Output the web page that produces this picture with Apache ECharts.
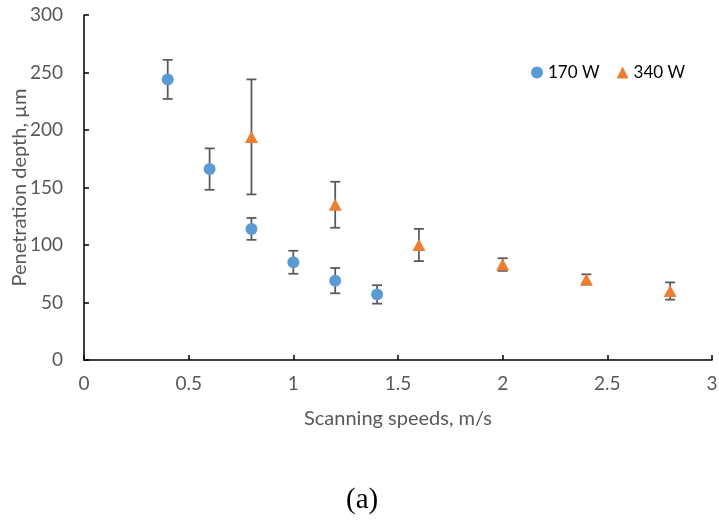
<!DOCTYPE html>
<html>
<head>
<meta charset="utf-8">
<script src="https://cdn.jsdelivr.net/npm/echarts@6/dist/echarts.min.js"></script>
<style>
  html, body { margin: 0; padding: 0; background: #fff; }
  #chart { width: 719px; height: 521px; }
</style>
</head>
<body>
<div id="chart"></div>
<script>
// Penetration depth vs scanning speed, two laser powers, with error bars
const speed170 = [0.4, 0.6, 0.8, 1.0, 1.2, 1.4];
const depth170 = [244, 166, 114, 85, 69, 57];
const err170   = [17, 18, 9.5, 10, 11, 8];

const speed340 = [0.8, 1.2, 1.6, 2.0, 2.4, 2.8];
const depth340 = [194, 135, 100, 83, 70, 60];
const err340   = [50, 20, 14, 5.5, 4.5, 7.5];

const xTicks = [0, 0.5, 1, 1.5, 2, 2.5, 3];
const yTicks = [0, 50, 100, 150, 200, 250, 300];

const font = 'Lato, "Open Sans", sans-serif';
const axisColor = '#000';
const labelColor = '#595959';

function pairs(xs, ys) { return xs.map((x, i) => [x, ys[i]]); }
function errRows(xs, ys, es) { return xs.map((x, i) => [x, ys[i] - es[i], ys[i] + es[i]]); }

function renderErr(params, api) {
  const x = api.value(0);
  const lo = api.coord([x, api.value(1)]);
  const hi = api.coord([x, api.value(2)]);
  const cap = 5;
  const style = { stroke: '#595959', lineWidth: 1.75 };
  return {
    type: 'group',
    children: [
      { type: 'line', shape: { x1: lo[0], y1: lo[1], x2: hi[0], y2: hi[1] }, style },
      { type: 'line', shape: { x1: hi[0] - cap, y1: hi[1], x2: hi[0] + cap, y2: hi[1] }, style },
      { type: 'line', shape: { x1: lo[0] - cap, y1: lo[1], x2: lo[0] + cap, y2: lo[1] }, style }
    ]
  };
}

const chart = echarts.init(document.getElementById('chart'), null, { renderer: 'canvas' });
chart.setOption({
  animation: false,
  backgroundColor: '#fff',
  grid: { left: 84, right: 7, top: 15, bottom: 161, containLabel: false, outerBoundsMode: 'none' },
  legend: {
    left: 526, top: 59,
    itemWidth: 12, itemHeight: 12, itemGap: 17,
    textStyle: { fontFamily: font, fontSize: 17, color: '#000' },
    data: [
      { name: '170 W', icon: 'circle' },
      { name: '340 W', icon: 'triangle' }
    ]
  },
  xAxis: {
    type: 'value', min: 0, max: 3, interval: 0.5,
    name: 'Scanning speeds, m/s', nameLocation: 'middle', nameGap: 49, nameMoveOverlap: false,
    nameTextStyle: { fontFamily: font, fontSize: 20, color: labelColor },
    axisLine: { show: true, lineStyle: { color: axisColor, width: 1.5 } },
    axisTick: { show: true, inside: true, length: 5, lineStyle: { color: axisColor, width: 1.5 } },
    axisLabel: {
      margin: 14, fontFamily: font, fontSize: 19, color: labelColor,
      formatter: v => xTicks.includes(v) ? String(v) : ''
    },
    splitLine: { show: false }
  },
  yAxis: {
    type: 'value', min: 0, max: 300, interval: 50,
    name: 'Penetration depth, µm', nameLocation: 'middle', nameGap: 54, nameRotate: 90,
    nameMoveOverlap: false,
    nameTextStyle: { fontFamily: font, fontSize: 20, color: labelColor },
    axisLine: { show: true, lineStyle: { color: axisColor, width: 1.5 } },
    axisTick: { show: true, inside: true, length: 5, lineStyle: { color: axisColor, width: 1.5 } },
    axisLabel: {
      margin: 21, fontFamily: font, fontSize: 19, color: labelColor,
      formatter: v => yTicks.includes(v) ? String(v) : ''
    },
    splitLine: { show: false }
  },
  series: [
    {
      name: '170 W err', type: 'custom', renderItem: renderErr,
      data: errRows(speed170, depth170, err170), z: 1, silent: true,
      encode: { x: 0, y: [1, 2] }
    },
    {
      name: '340 W err', type: 'custom', renderItem: renderErr,
      data: errRows(speed340, depth340, err340), z: 1, silent: true,
      encode: { x: 0, y: [1, 2] }
    },
    {
      name: '170 W', type: 'scatter', symbol: 'circle', symbolSize: 12,
      itemStyle: { color: '#5B9BD5', opacity: 1 }, z: 3,
      data: pairs(speed170, depth170)
    },
    {
      name: '340 W', type: 'scatter', symbol: 'triangle', symbolSize: [13, 12],
      itemStyle: { color: '#ED7D31', opacity: 1 }, z: 3,
      data: pairs(speed340, depth340)
    }
  ],
  graphic: [
    {
      type: 'text', left: 346, top: 486,
      style: { text: '(a)', fontFamily: '"Liberation Serif", serif', fontSize: 29, fill: '#000' }
    }
  ]
});
</script>
</body>
</html>
